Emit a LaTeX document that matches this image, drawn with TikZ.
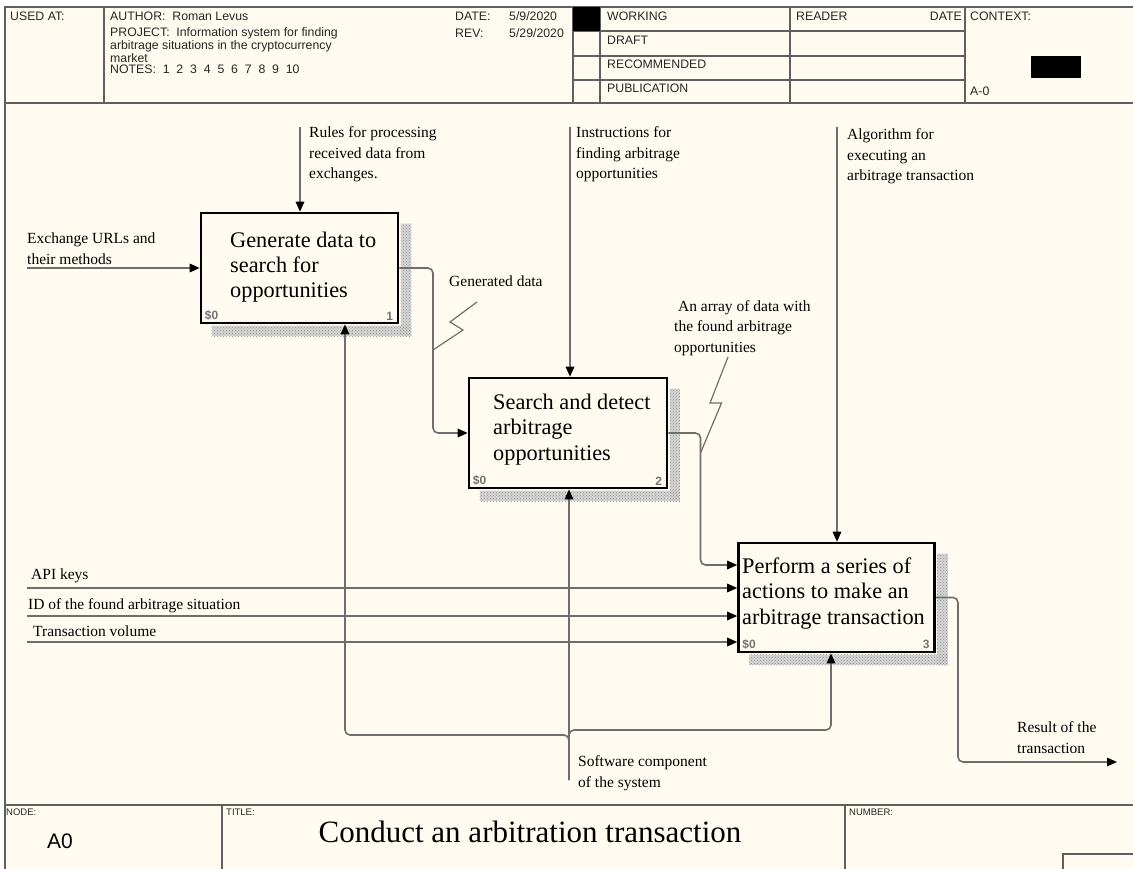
\documentclass[tikz,border=0pt]{standalone}
\usepackage{fontspec}
\setmainfont{Liberation Serif}
\newfontfamily\hdrfont{Liberation Sans}
\usetikzlibrary{arrows.meta,patterns}
\definecolor{paper}{RGB}{255,251,240}
\definecolor{wirecol}{RGB}{110,110,110}
\definecolor{rulecol}{RGB}{95,95,95}
\definecolor{shadecol}{RGB}{214,214,214}
\definecolor{dotcol}{RGB}{140,140,140}
\begin{document}
\begin{tikzpicture}[x=1pt,y=-1pt,
  hline/.style={draw=rulecol,line width=1.6pt},
  hdr/.style={font=\hdrfont\fontsize{12.3}{14}\selectfont,text=black!85,inner sep=0pt,anchor=west},
  ftr/.style={font=\hdrfont\fontsize{9.5}{11}\selectfont,text=black!85,inner sep=0pt,anchor=west},
  lbl/.style={font=\fontsize{15.5}{20.5}\selectfont,align=left,inner sep=0pt,anchor=base west},
  fn/.style={draw=black,line width=2.6pt,fill=paper,inner sep=0pt},
  fntxt/.style={font=\fontsize{22.3}{25.5}\selectfont,align=left,inner sep=0pt,anchor=base west},
  costtag/.style={font=\hdrfont\bfseries\fontsize{12}{13}\selectfont,text=black!55,inner sep=0pt},
  boxshade/.style={fill=shadecol,draw=none},
  boxdots/.style={pattern=crosshatch dots,pattern color=dotcol,draw=none},
  wire/.style={draw=wirecol,line width=1.6pt,rounded corners=5pt},
  arr/.style={wire,-{Triangle[length=10pt,width=8.5pt,color=black]}},
  zig/.style={draw=wirecol,line width=1.2pt},
]
% page and frame
\fill[white] (0,0) rectangle (1133,869);
\fill[paper] (5,7) rectangle (1133,869);
\useasboundingbox (0,0) rectangle (1133,869);

% ---------- header block ----------
\draw[hline] (5,869) -- (5,7) -- (1133,7);
\draw[hline] (5,103) -- (1133,103);
\foreach \x in {104,573,600,790,965} \draw[hline] (\x,7) -- (\x,103);
\foreach \y in {31,56,80} \draw[hline] (573,\y) -- (965,\y);
\fill[black] (573,7) rectangle (600,31);
\fill[black] (1031,56) rectangle (1081,78);

\node[hdr] (usedat) at (10,16) {USED AT:};
\node[hdr] (author) at (110,16) {AUTHOR:\ \ Roman Levus};
\node[hdr] (project) at (110,33) {PROJECT:\ \ Information system for finding};
\node[hdr] (project2) at (110,46) {arbitrage situations in the cryptocurrency};
\node[hdr] (project3) at (110,58) {market};
\node[hdr] (notes) at (110,69) {NOTES:\ \ 1\ \ 2\ \ 3\ \ 4\ \ 5\ \ 6\ \ 7\ \ 8\ \ 9\ \ 10};
\node[hdr] (date) at (455,16) {DATE:};
\node[hdr] (dateval) at (509,16) {5/9/2020};
\node[hdr] (rev) at (455,33) {REV:};
\node[hdr] (revval) at (509,33) {5/29/2020};
\node[hdr] (working) at (607,16) {WORKING};
\node[hdr] (draft) at (607,40) {DRAFT};
\node[hdr] (recommended) at (607,64) {RECOMMENDED};
\node[hdr] (publication) at (607,88) {PUBLICATION};
\node[hdr] (reader) at (796,16) {READER};
\node[hdr,anchor=east] (rdate) at (962,16) {DATE};
\node[hdr] (context) at (970,16) {CONTEXT:};
\node[hdr] (ctxnode) at (970,91) {A-0};

% ---------- footer block ----------
\draw[hline] (5,805) -- (1133,805);
\draw[hline] (222,805) -- (222,869);
\draw[hline] (845,805) -- (845,869);
\draw[hline] (1063,869) -- (1063,854) -- (1133,854);
\node[ftr] (nodelbl) at (6,812) {NODE:};
\node[ftr] (titlelbl) at (226,812) {TITLE:};
\node[ftr] (numberlbl) at (849,812) {NUMBER:};
\node[font=\hdrfont\fontsize{21}{24}\selectfont,inner sep=0pt] (nodeid) at (60,841) {A0};
\node[font=\fontsize{31}{34}\selectfont,inner sep=0pt] (title) at (530,832) {Conduct an arbitration transaction};

% ---------- activity boxes ----------
\node[fn,minimum width=197pt,minimum height=110pt] (b1) at (299.5,268) {};
\node[fn,minimum width=198pt,minimum height=110pt] (b2) at (568,433) {};
\node[fn,minimum width=196pt,minimum height=109pt] (b3) at (836.5,597.5) {};

% hatched drop shadows
\foreach \b in {b1,b2,b3}{
  \fill[boxshade] ([shift={(1.3,12)}]\b.north east) rectangle ([shift={(12,12)}]\b.south east);
  \fill[boxshade] ([shift={(12,1.3)}]\b.south west) rectangle ([shift={(12,12)}]\b.south east);
  \fill[boxdots] ([shift={(1.3,12)}]\b.north east) rectangle ([shift={(12,12)}]\b.south east);
  \fill[boxdots] ([shift={(12,1.3)}]\b.south west) rectangle ([shift={(12,12)}]\b.south east);
}

% box texts (anchored at the baseline of their last line)
\node[fntxt] (b1t) at (230,298) {Generate data to\\search for\\opportunities};
\node[fntxt] (b2t) at (493,460) {Search and detect\\arbitrage\\opportunities};
\node[fntxt] (b3t) at (742,624) {Perform a series of\\actions to make an\\arbitrage transaction};

\node[costtag,anchor=south west] (b1c) at ([shift={(5,-4)}]b1.south west) {\$0};
\node[costtag,anchor=south east] (b1n) at ([shift={(-6,-4)}]b1.south east) {1};
\node[costtag,anchor=south west] (b2c) at ([shift={(5,-4)}]b2.south west) {\$0};
\node[costtag,anchor=south east] (b2n) at ([shift={(-6,-4)}]b2.south east) {2};
\node[costtag,anchor=south west] (b3c) at ([shift={(5,-4)}]b3.south west) {\$0};
\node[costtag,anchor=south east] (b3n) at ([shift={(-6,-4)}]b3.south east) {3};

% ---------- arrow labels (baseline of last line) ----------
\node[lbl] (Lrules) at (309,179) {Rules for processing\\received data from\\exchanges.};
\node[lbl] (Linstr) at (576,179) {Instructions for\\finding arbitrage\\opportunities};
\node[lbl] (Lalgo) at (847,181) {Algorithm for\\executing an\\arbitrage transaction};
\node[lbl] (Lexch) at (27,264.5) {Exchange URLs and\\their methods};
\node[lbl] (Lgen) at (449,287) {Generated data};
\node[lbl] (Larr) at (674,352) {\ An array of data with\\the found arbitrage\\opportunities};
\node[lbl] (Lapi) at (31,579) {API keys};
\node[lbl] (Lid) at (28,609) {ID of the found arbitrage situation};
\node[lbl] (Lvol) at (33,636) {Transaction volume};
\node[lbl] (Lsoft) at (578,787) {Software component\\of the system};
\node[lbl] (Lres) at (1017,753) {Result of the\\transaction};

% ---------- free arrow ends ----------
\coordinate (c1) at (300,127);
\coordinate (c2) at (570,127);
\coordinate (c3) at (837,127);
\coordinate (exS) at (27,268);
\coordinate (apiS) at (27,588);
\coordinate (idS) at (27,616);
\coordinate (volS) at (27,642);
\coordinate (mech) at (569,780);
\coordinate (mL) at (345,735);
\coordinate (mR) at (831,730);
\coordinate (resE) at (1117,762);

% controls
\draw[arr] (c1) -- (c1 |- b1.north);
\draw[arr] (c2) -- (c2 |- b2.north);
\draw[arr] (c3) -- (c3 |- b3.north);

% inputs
\draw[arr] (exS) -- (exS -| b1.west);
\draw[arr] (apiS) -- (apiS -| b3.west);
\draw[arr] (idS) -- (idS -| b3.west);
\draw[arr] (volS) -- (volS -| b3.west);

% box to box flows
\draw[arr] (b1.east) -- (433,268) -- (433,433) -- (b2.west);
\draw[arr] (b2.east) -- (700.5,433) -- (700.5,565) -- (b3.west |- 0,565);

% output
\draw[arr] (b3.east) -- (958,597.5) |- (resE);

% mechanisms
\draw[arr] (mech) |- (mL) -- (mL |- b1.south);
\draw[arr] (mech) -- (mech |- b2.south);
\draw[arr] (mech) |- (mR) -- (mR |- b3.south);

% label squiggles
\draw[zig] (433,350) -- (463,330) -- (450,322) -- (477,302);
\draw[zig] (700.5,453) -- (721.5,403) -- (710,403) -- (728,357);
\end{tikzpicture}
\end{document}
